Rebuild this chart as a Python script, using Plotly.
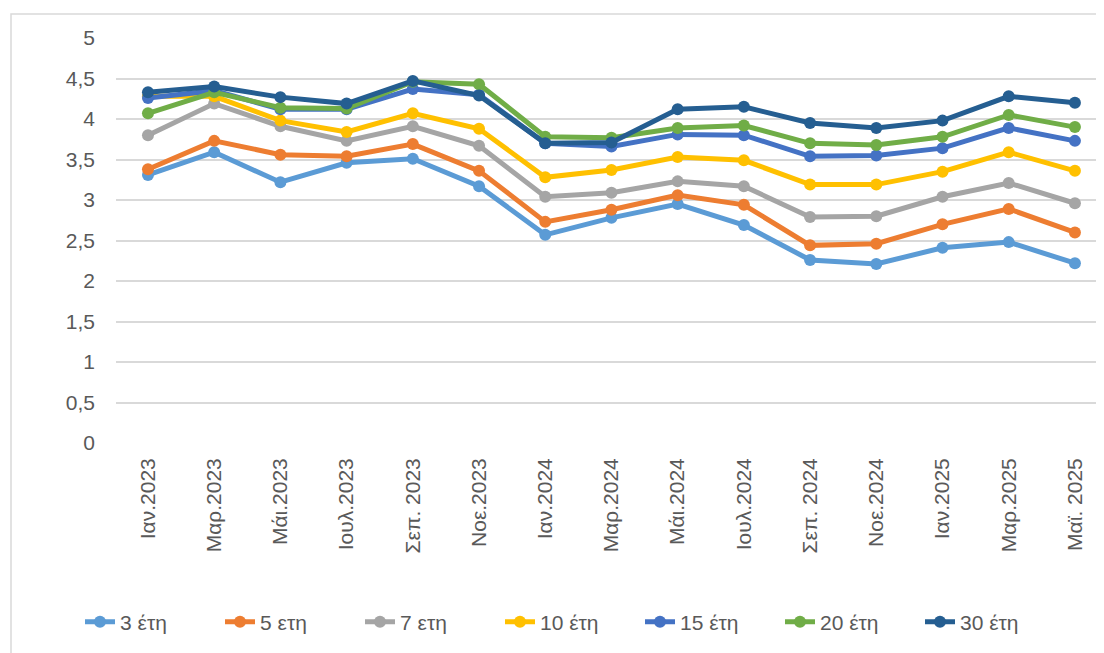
import plotly.graph_objects as go

categories = ["Ιαν.2023", "Μαρ.2023", "Μάι.2023", "Ιουλ.2023", "Σεπ. 2023", "Νοε.2023",
              "Ιαν.2024", "Μαρ.2024", "Μάι.2024", "Ιουλ.2024", "Σεπ. 2024", "Νοε.2024",
              "Ιαν.2025", "Μαρ.2025", "Μαϊ. 2025"]

y3 = [3.31, 3.59, 3.22, 3.46, 3.51, 3.17, 2.57, 2.78, 2.95, 2.69, 2.26, 2.21, 2.41, 2.48, 2.22]
y5 = [3.38, 3.73, 3.56, 3.54, 3.69, 3.36, 2.73, 2.88, 3.06, 2.94, 2.44, 2.46, 2.70, 2.89, 2.60]
y7 = [3.80, 4.19, 3.91, 3.73, 3.91, 3.67, 3.04, 3.09, 3.23, 3.17, 2.79, 2.80, 3.04, 3.21, 2.96]
y10 = [4.28, 4.28, 3.98, 3.84, 4.07, 3.88, 3.28, 3.37, 3.53, 3.49, 3.19, 3.19, 3.35, 3.59, 3.36]
y15 = [4.26, 4.35, 4.12, 4.12, 4.37, 4.30, 3.70, 3.66, 3.81, 3.80, 3.54, 3.55, 3.64, 3.89, 3.73]
y20 = [4.07, 4.33, 4.14, 4.13, 4.46, 4.43, 3.78, 3.77, 3.89, 3.92, 3.70, 3.68, 3.78, 4.05, 3.90]
y30 = [4.33, 4.40, 4.27, 4.19, 4.47, 4.29, 3.70, 3.71, 4.12, 4.15, 3.95, 3.89, 3.98, 4.28, 4.20]

series = [
    ("3 έτη", y3, "#5B9BD5"),
    ("5 ετη", y5, "#ED7D31"),
    ("7 ετη", y7, "#A5A5A5"),
    ("10 έτη", y10, "#FFC000"),
    ("15 έτη", y15, "#4472C4"),
    ("20 έτη", y20, "#70AD47"),
    ("30 έτη", y30, "#255E91"),
]

FONT = "Liberation Sans, Arial, sans-serif"

fig = go.Figure()
for name, ys, color in series:
    fig.add_trace(go.Scatter(
        x=list(range(len(categories))), y=ys, name=name, mode="lines+markers",
        line=dict(color=color, width=5),
        marker=dict(color=color, size=12),
    ))

PLOT_W = 996.0
PLOT_H = 405.0

fig.update_layout(
    width=1104, height=653,
    margin=dict(l=108, r=0, t=30, b=218),
    paper_bgcolor="white", plot_bgcolor="white",
    separators=", ",
    font=dict(family=FONT, color="#595959", size=21),
    showlegend=True,
    legend=dict(orientation="h", x=(570 - 116) / PLOT_W, xanchor="center",
                y=(443 - 622) / PLOT_H, yanchor="middle",
                font=dict(size=21, color="#595959"), itemwidth=30, entrywidth=95,
                traceorder="normal"),
    xaxis=dict(
        tickmode="array", tickvals=list(range(len(categories))), ticktext=categories,
        range=[-0.483, 14.56], tickangle=-90, showgrid=False, zeroline=False,
        showline=False, ticks="", tickfont=dict(size=21, color="#595959"),
        ticklabelstandoff=10, automargin=False,
    ),
    yaxis=dict(
        range=[0, 5], dtick=0.5, tick0=0, showgrid=True, gridcolor="#D9D9D9", gridwidth=1.5,
        zeroline=False, showline=False, ticks="", tickfont=dict(size=21, color="#595959"),
        ticklabelstandoff=20, automargin=False,
    ),
    shapes=[dict(type="rect", xref="paper", yref="paper",
                 x0=(11 - 116) / PLOT_W, x1=1.05, y0=-0.6, y1=(443 - 14) / PLOT_H,
                 line=dict(color="#D9D9D9", width=1.5), fillcolor="rgba(0,0,0,0)", layer="below")],
)

fig.write_html("out.html")
